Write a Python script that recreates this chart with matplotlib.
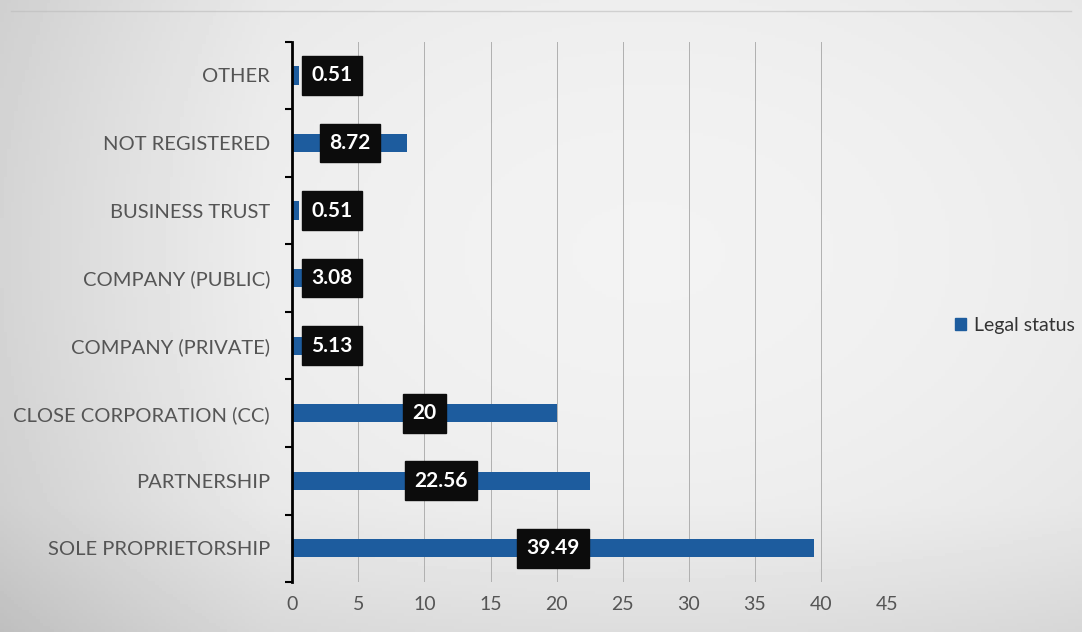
import numpy as np
import matplotlib
matplotlib.use("Agg")
import matplotlib.pyplot as plt

plt.rcParams["font.family"] = ["Lato", "DejaVu Sans"]

# data, bottom to top as drawn
categories = [
    "SOLE PROPRIETORSHIP",
    "PARTNERSHIP",
    "CLOSE CORPORATION (CC)",
    "COMPANY (PRIVATE)",
    "COMPANY (PUBLIC)",
    "BUSINESS TRUST",
    "NOT REGISTERED",
    "OTHER",
]
values = [39.49, 22.56, 20, 5.13, 3.08, 0.51, 8.72, 0.51]
value_labels = ["39.49", "22.56", "20", "5.13", "3.08", "0.51", "8.72", "0.51"]
series_name = "Legal status"
x_ticks = [0, 5, 10, 15, 20, 25, 30, 35, 40, 45]

BAR_COLOR = "#1d5c9e"
TEXT_COLOR = "#555555"

fig = plt.figure(figsize=(10.82, 6.32), dpi=100)

# soft grey scanned-page background
bg = fig.add_axes([0, 0, 1, 1], zorder=-10)
gx = np.linspace(0, 1, 300)
gy = np.linspace(0, 1, 200)
X, Y = np.meshgrid(gx, gy)
shade = 0.95 - 0.16 * (X - 0.6) ** 2 - 0.12 * (Y - 0.6) ** 2
shade -= 0.06 * np.clip(0.25 - X, 0, None) / 0.25
shade -= 0.04 * np.clip(0.2 - Y, 0, None) / 0.2
bg.imshow(shade, cmap="gray", vmin=0, vmax=1, aspect="auto",
          extent=[0, 1, 0, 1], origin="lower")
bg.set_xlim(0, 1)
bg.set_ylim(0, 1)
bg.axis("off")
bg.plot([0.01, 0.99], [0.982, 0.982], color="#bcbcbc", lw=1.0, alpha=0.6)

ax = fig.add_axes([0.27, 0.079, 0.55, 0.855])
ax.patch.set_alpha(0)

ypos = np.arange(len(categories))
ax.barh(ypos, values, height=0.27, color=BAR_COLOR, zorder=3)

ax.set_xlim(0, 45)
ax.set_ylim(-0.5, len(categories) - 0.5)
ax.set_xticks(x_ticks)
ax.set_xticklabels([str(t) for t in x_ticks], fontsize=14, color=TEXT_COLOR)
ax.tick_params(axis="x", length=0, pad=10)

ax.set_yticks(ypos)
ax.set_yticklabels(categories, fontsize=14.5, color=TEXT_COLOR)
ax.tick_params(axis="y", length=0, pad=16)
ax.set_yticks(np.arange(-0.5, len(categories), 1), minor=True)
ax.tick_params(axis="y", which="minor", length=5, width=1.5, color="black", direction="out")

ax.grid(axis="x", color="#b0b0b0", lw=0.7, zorder=0)
for side in ["top", "right", "bottom"]:
    ax.spines[side].set_visible(False)
ax.spines["left"].set_linewidth(2)
ax.spines["left"].set_color("black")
ax.spines["left"].set_zorder(4)

for y, v, lab in zip(ypos, values, value_labels):
    ax.text(max(v / 2, 3.0), y, lab, ha="center", va="center",
            fontsize=15, fontweight="bold", color="white", zorder=5,
            bbox=dict(boxstyle="square,pad=0.45", facecolor="#0c0c0c",
                      edgecolor="#0c0c0c"))

handle = plt.Rectangle((0, 0), 1, 1, color=BAR_COLOR)
fig.legend([handle], [series_name], loc="center left",
           bbox_to_anchor=(0.866, 0.485), frameon=False, fontsize=14,
           handlelength=0.6, handleheight=0.6, handletextpad=0.4,
           labelcolor="#333333")

fig.savefig("out.png", dpi=100)
